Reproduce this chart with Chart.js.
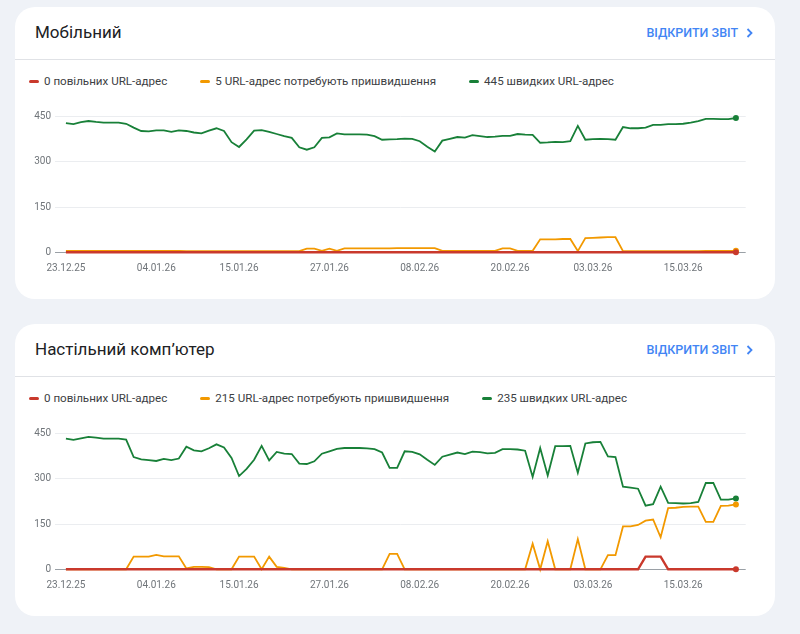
<!DOCTYPE html>
<html lang="uk">
<head>
<meta charset="utf-8">
<title>Основні показники веб-сторінки</title>
<script src="https://cdn.jsdelivr.net/npm/chart.js@4.4.1/dist/chart.umd.min.js"></script>
<style>
  body { margin:0; width:800px; height:634px; overflow:hidden; position:relative; background:#eff2f7; font-family: Roboto, "Noto Sans", sans-serif; }
  .card { position:absolute; left:15px; width:760px; height:292px; background:#fff; border-radius:20px; }
  .title { position:absolute; left:20px; top:14px; font-size:17px; line-height:22px; color:#202124; }
  .link { position:absolute; right:22px; top:18px; display:flex; align-items:center; gap:8px; font-size:12.5px; line-height:16px; font-weight:500; color:#4285f4; }
  .divider { position:absolute; left:0; right:0; top:52px; height:1px; background:#e0e2e6; }
  .legend { position:absolute; left:14px; top:66px; display:flex; gap:33px; font-size:11.6px; line-height:16px; color:#3c4043; }
  .item { display:flex; align-items:center; white-space:nowrap; }
  .mark { width:10px; height:3px; border-radius:2px; margin-right:5px; }
  .chart { position:absolute; left:0; top:95px; width:760px; height:190px; }
</style>
</head>
<body>

<div class="card" style="top:7px">
  <div class="title">Мобільний</div>
  <div class="link">ВІДКРИТИ ЗВІТ <svg width="7" height="10" viewBox="0 0 7 10"><path d="M1.5 1 L5.5 5 L1.5 9" fill="none" stroke="#4285f4" stroke-width="1.8"/></svg></div>
  <div class="divider"></div>
  <div class="legend" id="legend-mobile"></div>
  <div class="chart"><canvas id="mobile"></canvas></div>
</div>

<div class="card" style="top:324px">
  <div class="title">Настільний комп’ютер</div>
  <div class="link">ВІДКРИТИ ЗВІТ <svg width="7" height="10" viewBox="0 0 7 10"><path d="M1.5 1 L5.5 5 L1.5 9" fill="none" stroke="#4285f4" stroke-width="1.8"/></svg></div>
  <div class="divider"></div>
  <div class="legend" id="legend-desktop"></div>
  <div class="chart"><canvas id="desktop"></canvas></div>
</div>

<script>
// Дати: щодня з 23.12.25 по 22.03.26
const startDate = new Date(2025, 11, 23);
const dayCount = 90;
const dates = [];
for (let i = 0; i < dayCount; i++) {
  const d = new Date(startDate);
  d.setDate(d.getDate() + i);
  dates.push(String(d.getDate()).padStart(2, '0') + '.' + String(d.getMonth() + 1).padStart(2, '0') + '.' + String(d.getFullYear()).slice(2));
}
const tickLabels = ['23.12.25', '04.01.26', '15.01.26', '27.01.26', '08.02.26', '20.02.26', '03.03.26', '15.03.26'];
const yTicks = [0, 150, 300, 450];

// Мобільний
const mobileSlow = [
  0,0,0,0,0,0,0,0,0,0, 0,0,0,0,0,0,0,0,0,0, 0,0,0,0,0,0,0,0,0,0,
  0,0,0,0,0,0,0,0,0,0, 0,0,0,0,0,0,0,0,0,0, 0,0,0,0,0,0,0,0,0,0,
  0,0,0,0,0,0,0,0,0,0, 0,0,0,0,0,0,0,0,0,0, 0,0,0,0,0,0,0,0,0,0
];
const mobileNeed = [
  5,5,5,5,5,5,5,5,5,5, 5,5,5,5,5,5,4,4,4,4, 4,4,4,4,4,4,4,4,4,4,
  4,4,12,12,5,12,5,13,13,13, 13,13,13,13,14,14,14,14,14,14, 5,5,5,5,5,5,5,5,13,13,
  5,5,5,43,43,43,44,44,4,47, 48,49,50,50,4,4,4,4,4,4, 4,4,4,4,4,5,5,5,5,5
];
const mobileFast = [
  428,425,431,435,432,430,430,430,426,413,
  402,401,404,404,399,404,402,397,394,403,
  411,402,365,349,374,403,405,399,392,385,
  379,348,340,348,379,381,394,391,391,391,
  390,385,373,374,375,377,376,368,350,334,
  370,376,382,380,388,385,382,383,386,386,
  392,390,389,363,364,366,365,368,419,373,
  375,376,375,373,415,411,411,413,422,422,
  425,425,426,430,435,442,442,441,441,445
];

// Настільний комп'ютер
const desktopSlow = [
  0,0,0,0,0,0,0,0,0,0, 0,0,0,0,0,0,0,0,0,0, 0,0,0,0,0,0,0,0,0,0,
  0,0,0,0,0,0,0,0,0,0, 0,0,0,0,0,0,0,0,0,0, 0,0,0,0,0,0,0,0,0,0,
  0,0,0,0,0,0,0,0,0,0, 0,0,0,0,0,0,0,42,42,42, 0,0,0,0,0,0,0,0,0,0
];
const desktopNeed = [
  0,0,0,0,0,0,0,0,0,42, 42,42,48,43,43,43,3,8,8,7, 0,0,0,42,42,42,0,42,8,5,
  0,0,0,0,0,0,0,0,0,0, 0,0,0,51,51,0,0,0,0,0, 0,0,0,0,0,0,0,0,0,0,
  0,0,85,0,93,0,0,0,100,0, 0,0,47,47,142,142,147,161,165,106, 203,204,207,208,208,157,157,210,211,215
];
const desktopFast = [
  433,429,434,439,436,433,433,433,430,372,
  364,362,359,366,362,367,406,394,391,401,
  414,404,369,309,333,363,409,361,389,383,
  382,350,349,358,383,391,399,402,402,402,
  401,398,387,336,336,391,389,381,363,346,
  373,380,387,382,390,388,384,386,398,398,
  397,393,306,402,311,408,408,409,320,417,
  421,422,374,372,274,271,267,211,216,274,
  220,219,218,219,223,286,286,231,231,235
];

const RED = '#c9392c';
const ORANGE = '#f29900';
const GREEN = '#188038';

function fillLegend(id, slow, need, fast) {
  const items = [
    [RED, slow[slow.length - 1] + ' повільних URL-адрес'],
    [ORANGE, need[need.length - 1] + ' URL-адрес потребують пришвидшення'],
    [GREEN, fast[fast.length - 1] + ' швидких URL-адрес']
  ];
  document.getElementById(id).innerHTML = items.map(it =>
    `<span class="item"><span class="mark" style="background:${it[0]}"></span>${it[1]}</span>`).join('');
}

function drawChart(id, slow, need, fast) {
  const last = dates.length - 1;
  const ds = (arr, color, width) => ({
    data: arr.map((v, i) => ({ x: i, y: v })),
    borderColor: color,
    backgroundColor: color,
    borderWidth: width,
    tension: 0,
    fill: false,
    clip: 6,
    pointRadius: c => c.dataIndex === last ? 3 : 0,
    pointBorderWidth: 0,
    pointHoverRadius: 0
  });
  new Chart(document.getElementById(id), {
    type: 'line',
    data: { datasets: [ds(slow, RED, 2.4), ds(need, ORANGE, 1.8), ds(fast, GREEN, 1.8)] },
    options: {
      animation: false,
      responsive: true,
      maintainAspectRatio: false,
      layout: { padding: { top: 14.5, right: 29.3, left: 0, bottom: 0 } },
      plugins: { legend: { display: false }, tooltip: { enabled: false } },
      scales: {
        x: {
          type: 'linear',
          min: -1.45,
          max: 90.3,
          grid: { display: false, drawTicks: false },
          border: { display: false },
          afterBuildTicks: s => { s.ticks = tickLabels.map(t => ({ value: dates.indexOf(t) })); },
          afterFit: s => { s.height = 39.7; },
          ticks: {
            autoSkip: false, maxRotation: 0, padding: 10,
            color: '#70757a', font: { family: 'Roboto', size: 10 },
            callback: v => dates[v]
          }
        },
        y: {
          min: 0,
          max: 450,
          grid: { color: c => c.tick.value === 0 ? '#9aa0a6' : '#ebedf0', drawTicks: false, lineWidth: 1 },
          border: { display: false },
          afterBuildTicks: s => { s.ticks = yTicks.map(v => ({ value: v })); },
          afterFit: s => { s.width = 40; },
          ticks: { padding: 4, color: '#70757a', font: { family: 'Roboto', size: 10 } }
        }
      }
    }
  });
}

fillLegend('legend-mobile', mobileSlow, mobileNeed, mobileFast);
fillLegend('legend-desktop', desktopSlow, desktopNeed, desktopFast);
drawChart('mobile', mobileSlow, mobileNeed, mobileFast);
drawChart('desktop', desktopSlow, desktopNeed, desktopFast);
</script>
</body>
</html>
